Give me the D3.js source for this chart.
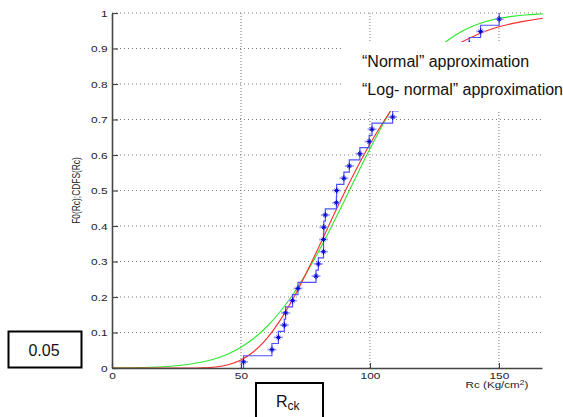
<!DOCTYPE html>
<html><head><meta charset="utf-8">
<script src="https://cdn.jsdelivr.net/npm/d3@7"></script>
<style>body{margin:0;background:#fff;overflow:hidden}</style>
</head><body><svg id="c" width="563" height="417"></svg>
<script>
// ---- data ----
const xTicks = [0, 50, 100, 150];
const xTickLabels = ["0", "50", "100", "150"];
const yTicks = [0, 0.1, 0.2, 0.3, 0.4, 0.5, 0.6, 0.7, 0.8, 0.9, 1];
const yTickLabels = ["0", "0.1", "0.2", "0.3", "0.4", "0.5", "0.6", "0.7", "0.8", "0.9", "1"];
// sorted sample of Rc (29 specimens)
const sampleRc = [51.0, 62.0, 64.5, 66.8, 67.3, 70.0, 72.1, 79.1, 80.0, 82.0, 82.0, 82.1, 82.7,
                  87.0, 87.1, 89.9, 92.0, 96.1, 99.7, 100.8, 108.8, 111, 114, 118, 123, 129,
                  138.5, 142.9, 150.1];
// fitted curves sampled along Rc
const curveRc = [0,5,10,15,20,25,30,35,40,45,50,55,60,65,70,75,80,85,90,95,100,105,110,115,120,125,130,135,140,145,150,155,160,165,167];
const normalCdf = [0.0003,0.0006,0.0011,0.0020,0.0036,0.0062,0.0104,0.0167,0.0262,0.0397,0.0586,0.0837,0.1162,0.157,0.2058,0.263,0.327,0.397,0.470,0.5445,0.6173,0.6862,0.749,0.8046,0.852,0.891,0.922,0.9457,0.9634,0.976,0.9848,0.9906,0.9944,0.9968,0.9974];
const lognormalCdf = [0,0,0,0,0,0,0.0001,0.0007,0.0030,0.0093,0.0228,0.0466,0.0829,0.132,0.193,0.263,0.338,0.416,0.492,0.564,0.631,0.691,0.744,0.789,0.828,0.866,0.893,0.916,0.934,0.949,0.961,0.970,0.977,0.983,0.985];
const legendLabels = ["\u201CNormal\u201D approximation", "\u201CLog- normal\u201D approximation"];
const yLabel = "F0(Rc);CDFS(Rc)";
const xLabelMain = "Rc (Kg/cm";
const xLabelSup = "2";
const boxValue = "0.05";
const boxSymbol = "R";
const boxSub = "ck";

// ---- drawing ----
const svg = d3.select("#c");
svg.append("rect").attr("width",563).attr("height",417).attr("fill","#fff");
const xMax = 166.7;
const x = d3.scaleLinear().domain([0, xMax]).range([112, 542]);
const y = d3.scaleLinear().domain([0, 1]).range([368, 13]);
const SX = 1.25; // horizontal stretch of the original figure text

// grid
svg.append("g").selectAll("line").data(yTicks.filter(d => d > 0)).join("line")
  .attr("x1", x(0)).attr("x2", x(xMax)).attr("y1", d => y(d)).attr("y2", d => y(d))
  .attr("stroke", "#7a7a7a").attr("stroke-width", 1).attr("stroke-dasharray", "1,3");
svg.append("g").selectAll("line").data(xTicks.filter(d => d > 0)).join("line")
  .attr("x1", d => x(d)).attr("x2", d => x(d)).attr("y1", y(0)).attr("y2", y(1))
  .attr("stroke", "#7a7a7a").attr("stroke-width", 1).attr("stroke-dasharray", "1,2");

// curves
const normPts = curveRc.map((r, i) => [r, normalCdf[i]]);
const logPts = curveRc.map((r, i) => [r, lognormalCdf[i]]);
const ln = d3.line().x(d => x(d[0])).y(d => y(d[1])).curve(d3.curveMonotoneX);
svg.append("path").attr("d", ln(normPts)).attr("fill","none").attr("stroke","#2de82d").attr("stroke-width",1.1);
svg.append("path").attr("d", ln(logPts)).attr("fill","none").attr("stroke","#ff2a2a").attr("stroke-width",1.1);

// empirical step function
const n = sampleRc.length;
const stepPts = [[sampleRc[0], 0]].concat(sampleRc.map((r, i) => [r, (i + 1) / n]));
const stepLine = d3.line().x(d => x(d[0])).y(d => y(d[1])).curve(d3.curveStepAfter);
svg.append("path").attr("d", stepLine(stepPts)).attr("fill","none").attr("stroke","#5050ff").attr("stroke-width",1.2);

// markers
const mk = svg.append("g").selectAll("g").data(sampleRc).join("g")
  .attr("transform", (r, i) => `translate(${x(r)},${y((i + 0.5) / n)})`);
mk.append("path").attr("d","M-4.5,0H4.5").attr("stroke","#a4a4ff").attr("stroke-width",1.8);
mk.append("path").attr("d","M-2.5,0H2.5M0,-3V3M-1.8,-1.8L1.8,1.8M-1.8,1.8L1.8,-1.8")
  .attr("stroke","#0000d0").attr("stroke-width",1);

// axes
const ya = d3.axisLeft(y).tickValues(yTicks).tickFormat((d, i) => yTickLabels[i])
  .tickSizeInner(-6).tickSizeOuter(0).tickPadding(3.5);
const xa = d3.axisBottom(x).tickValues(xTicks).tickFormat((d, i) => xTickLabels[i])
  .tickSizeInner(-5).tickSizeOuter(0).tickPadding(4);
const gy = svg.append("g").attr("transform", `translate(${x(0)},0)`).call(ya);
const gx = svg.append("g").attr("transform", `translate(0,${y(0)})`).call(xa);
[gx, gy].forEach(g => {
  g.select(".domain").attr("stroke", "#454545").attr("stroke-width", 1.6);
  g.selectAll(".tick line").attr("stroke", "#454545").attr("stroke-width", 1.2);
  g.selectAll(".tick text").attr("font-family", "Liberation Sans, Arial, sans-serif")
    .attr("font-size", 9.5).attr("fill", "#222").attr("transform", `scale(${SX},1)`);
});

// axis labels
const xl = svg.append("text").attr("transform", `translate(497,388) scale(${SX},1)`)
  .attr("text-anchor","middle").attr("font-family","Liberation Sans, Arial, sans-serif")
  .attr("font-size",9.3).attr("fill","#222");
xl.append("tspan").text(xLabelMain);
xl.append("tspan").attr("dy",-3.5).attr("font-size",6.8).text(xLabelSup);
xl.append("tspan").attr("dy",3.5).text(")");
svg.append("text").attr("transform", `translate(80,190.5) scale(${SX},1) rotate(-90)`)
  .attr("text-anchor","middle").attr("font-family","Liberation Sans, Arial, sans-serif")
  .attr("font-size",8.4).attr("fill","#222").text(yLabel);

// white legend panel covering part of the plot
svg.append("rect").attr("x",343).attr("y",42).attr("width",220).attr("height",69).attr("fill","#fff");
svg.append("g").selectAll("text").data(legendLabels).join("text")
  .attr("x", 362).attr("y", (d, i) => 66.5 + i * 28.5)
  .attr("font-family","Liberation Sans, Arial, sans-serif").attr("font-size",16).attr("fill","#111")
  .text(d => d);

// annotation boxes
svg.append("rect").attr("x",8.5).attr("y",331.5).attr("width",73).attr("height",36)
  .attr("fill","#fff").attr("stroke","#000").attr("stroke-width",2);
svg.append("text").attr("x",44).attr("y",356).attr("text-anchor","middle")
  .attr("font-family","Liberation Sans, Arial, sans-serif").attr("font-size",16).attr("fill","#111").text(boxValue);
svg.append("rect").attr("x",256).attr("y",383).attr("width",67).attr("height",50)
  .attr("fill","#fff").attr("stroke","#000").attr("stroke-width",2);
const rt = svg.append("text").attr("x",276).attr("y",407)
  .attr("font-family","Liberation Sans, Arial, sans-serif").attr("font-size",16).attr("fill","#111");
rt.append("tspan").text(boxSymbol);
rt.append("tspan").attr("dy",2.5).attr("font-size",12).text(boxSub);
</script></body></html>
